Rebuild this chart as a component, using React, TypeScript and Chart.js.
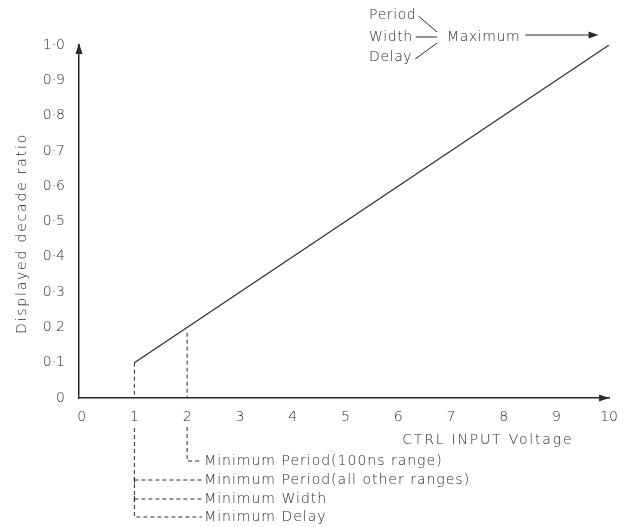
import React, { useEffect, useRef } from "react";
import { Chart, registerables } from "chart.js";

Chart.register(...registerables);

// ---- data ----
const xTickValues = [0, 1, 2, 3, 4, 5, 6, 7, 8, 9, 10];
const xTickLabels = ["0", "1", "2", "3", "4", "5", "6", "7", "8", "9", "10"];
const yTickValues = [0, 0.1, 0.2, 0.3, 0.4, 0.5, 0.6, 0.7, 0.8, 0.9, 1.0];
const yTickLabels = ["0", "0·1", "0 2", "0·3", "0·4", "0·5", "0·6", "0·7", "0·8", "0·9", "1·0"];
const ratioX = [1, 10];
const ratioY = [0.1, 1.0];
const minAllX = 1; // min for all other ranges
const minAllTopY = 0.1;
const min100nsX = 2;
const min100nsTopY = 0.185;
const belowNotes = [
  "Minimum Period(100ns range)",
  "Minimum Period(all other ranges)",
  "Minimum Width",
  "Minimum Delay",
];
const maxParams = ["Period", "Width", "Delay"];
const maxLabel = "Maximum";
const xTitle = "CTRL INPUT Voltage";
const yTitle = "Displayed decade ratio";

const INK = "#2a2a2a";
const FONT_FAMILY = "'DejaVu Sans', sans-serif";
const FONT = `200 14px ${FONT_FAMILY}`;

const annotationPlugin = {
  id: "annotations",
  afterDraw(chart: any) {
    const ctx = chart.ctx as any;
    const xs = chart.scales.x;
    const ys = chart.scales.y;
    const area = chart.chartArea;
    ctx.save();
    ctx.strokeStyle = INK;
    ctx.fillStyle = INK;
    ctx.lineWidth = 1;

    // axis arrow heads
    const xEnd = xs.getPixelForValue(10);
    const yEnd = ys.getPixelForValue(1);
    ctx.beginPath();
    ctx.moveTo(xEnd, area.bottom);
    ctx.lineTo(xEnd - 10, area.bottom - 3.5);
    ctx.lineTo(xEnd - 10, area.bottom + 3.5);
    ctx.closePath();
    ctx.fill();
    ctx.beginPath();
    ctx.moveTo(area.left, yEnd - 2);
    ctx.lineTo(area.left - 3.5, yEnd + 9);
    ctx.lineTo(area.left + 3.5, yEnd + 9);
    ctx.closePath();
    ctx.fill();

    // axis titles
    ctx.font = FONT;
    ctx.textAlign = "center";
    ctx.textBaseline = "middle";
    ctx.letterSpacing = "1.8px";
    ctx.fillText(xTitle, xs.getPixelForValue(7.7), area.bottom + 42);
    ctx.save();
    ctx.translate(22, (area.top + area.bottom) / 2 + 12);
    ctx.rotate(-Math.PI / 2);
    ctx.fillText(yTitle, 0, 0);
    ctx.restore();

    // leaders below the axis
    ctx.letterSpacing = "1px";
    const x1 = xs.getPixelForValue(minAllX);
    const x2 = xs.getPixelForValue(min100nsX);
    const textX = x2 + 17;
    const rows = [area.bottom + 63, area.bottom + 82, area.bottom + 101, area.bottom + 119];
    ctx.setLineDash([4, 3]);
    ctx.beginPath();
    ctx.moveTo(x2, area.bottom + 29);
    ctx.lineTo(x2, rows[0]);
    ctx.lineTo(textX - 2, rows[0]);
    ctx.moveTo(x1, area.bottom + 30);
    ctx.lineTo(x1, rows[3]);
    ctx.lineTo(textX - 2, rows[3]);
    ctx.moveTo(x1, rows[1]);
    ctx.lineTo(textX - 2, rows[1]);
    ctx.moveTo(x1, rows[2]);
    ctx.lineTo(textX - 2, rows[2]);
    ctx.stroke();
    ctx.setLineDash([]);
    // small ticks at the start of rows 2,3
    ctx.beginPath();
    ctx.moveTo(x1, rows[1] - 3);
    ctx.lineTo(x1, rows[1] + 3);
    ctx.moveTo(x1, rows[2] - 3);
    ctx.lineTo(x1, rows[2] + 3);
    ctx.stroke();

    ctx.textAlign = "left";
    belowNotes.forEach((t: string, i: number) => ctx.fillText(t, textX, rows[i]));

    // top-right "Maximum" annotation
    ctx.letterSpacing = "0.6px";
    const px = xs.getPixelForValue(5.45);
    const rowsTop = [area.top - 30, area.top - 8, area.top + 12];
    maxParams.forEach((t, i) => ctx.fillText(t, px, rowsTop[i]));
    const bx = px + 68;
    const w0 = ctx.measureText(maxParams[0]).width;
    const w1 = ctx.measureText(maxParams[1]).width;
    const w2 = ctx.measureText(maxParams[2]).width;
    ctx.beginPath();
    ctx.moveTo(px + w0 + 2, rowsTop[0] + 1);
    ctx.lineTo(bx, rowsTop[1] - 5);
    ctx.moveTo(px + w1 + 3, rowsTop[1]);
    ctx.lineTo(bx, rowsTop[1]);
    ctx.moveTo(px + w2 + 3, rowsTop[2] + 2);
    ctx.lineTo(bx, rowsTop[1] + 6);
    ctx.stroke();
    const mx = bx + 10;
    ctx.fillText(maxLabel, mx, rowsTop[1]);
    const mw = ctx.measureText(maxLabel).width;
    const arrowEnd = xs.getPixelForValue(9.8);
    const ay = rowsTop[1] - 2;
    ctx.beginPath();
    ctx.moveTo(mx + mw + 5, ay);
    ctx.lineTo(arrowEnd - 8, ay);
    ctx.stroke();
    ctx.beginPath();
    ctx.moveTo(arrowEnd, ay);
    ctx.lineTo(arrowEnd - 10, ay - 3.5);
    ctx.lineTo(arrowEnd - 10, ay + 3.5);
    ctx.closePath();
    ctx.fill();

    ctx.restore();
  },
};

export default function App() {
  const ref = useRef<HTMLCanvasElement | null>(null);
  useEffect(() => {
    if (!ref.current) return;
    const chart = new Chart(ref.current, {
      type: "line",
      data: {
        datasets: [
          {
            data: ratioX.map((x, i) => ({ x, y: ratioY[i] })),
            borderColor: INK,
            borderWidth: 1.2,
            pointRadius: 0,
            fill: false,
          },
          {
            data: [
              { x: minAllX, y: minAllTopY },
              { x: minAllX, y: 0 },
            ],
            borderColor: INK,
            borderWidth: 1,
            borderDash: [4, 3],
            pointRadius: 0,
          },
          {
            data: [
              { x: min100nsX, y: min100nsTopY },
              { x: min100nsX, y: 0 },
            ],
            borderColor: INK,
            borderWidth: 1,
            borderDash: [4, 3],
            pointRadius: 0,
          },
        ],
      },
      options: {
        responsive: false,
        animation: false,
        events: [],
        layout: { padding: { left: 0, top: 45, right: 17, bottom: 0 } },
        plugins: { legend: { display: false }, tooltip: { enabled: false }, title: { display: false } },
        scales: {
          x: {
            type: "linear",
            min: -0.05,
            max: 10,
            grid: { display: false, drawTicks: false },
            border: { display: true, color: INK, width: 1.5 },
            afterBuildTicks: (s: any) => {
              s.ticks = xTickValues.map((v) => ({ value: v }));
            },
            afterFit: (s: any) => {
              s.height = 129;
            },
            ticks: {
              autoSkip: false,
              maxRotation: 0,
              padding: 11,
              color: INK,
              font: { family: FONT_FAMILY, size: 14, weight: "200" },
              callback: (_v: any, i: number) => xTickLabels[i],
            },
          },
          y: {
            type: "linear",
            min: 0,
            max: 1,
            grid: { display: false, drawTicks: false },
            border: { display: true, color: INK, width: 1.5 },
            afterBuildTicks: (s: any) => {
              s.ticks = yTickValues.map((v) => ({ value: v }));
            },
            afterFit: (s: any) => {
              s.width = 79;
            },
            ticks: {
              autoSkip: false,
              padding: 14,
              color: INK,
              font: { family: FONT_FAMILY, size: 14, weight: "200" },
              callback: (_v: any, i: number) => yTickLabels[i],
            },
          },
        },
      },
      plugins: [annotationPlugin],
    } as any);
    return () => chart.destroy();
  }, []);
  return (
    <div style={{ position: "absolute", left: 0, top: 0, width: 629, height: 527, background: "#fff" }}>
      <canvas ref={ref} width={629} height={527} />
    </div>
  );
}
